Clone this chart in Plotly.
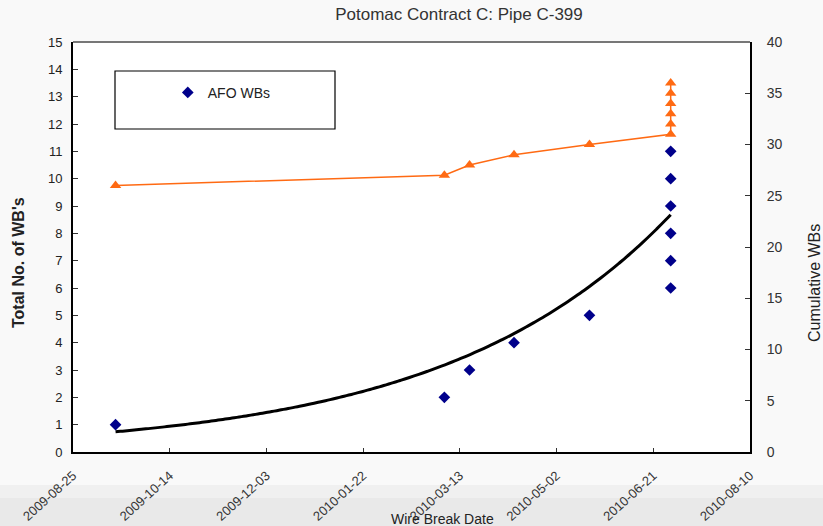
import numpy as np
import pandas as pd
import plotly.graph_objects as go

# ---- data ----
break_dates = ["2009-09-16", "2010-03-05", "2010-03-18", "2010-04-10", "2010-05-19",
               "2010-06-30", "2010-06-30", "2010-06-30", "2010-06-30", "2010-06-30", "2010-06-30"]
total_wbs = [1, 2, 3, 4, 5, 6, 7, 8, 9, 10, 11]
cumulative_wbs = [26, 27, 28, 29, 30, 31, 32, 33, 34, 35, 36]

# exponential trend line (as drawn in the reference): value at first date, growth per day
trend_start_value = 0.74
trend_growth_per_day = 0.00858

x_tick_labels = ["2009-08-25", "2009-10-14", "2009-12-03", "2010-01-22", "2010-03-13",
                 "2010-05-02", "2010-06-21", "2010-08-10"]

dates = pd.to_datetime(break_dates)
t_days = np.linspace(0, (dates[-1] - dates[0]).days, 120)
trend_x = dates[0] + pd.to_timedelta(t_days, unit="D")
trend_y = trend_start_value * np.exp(trend_growth_per_day * t_days)

fig = go.Figure()

fig.add_trace(go.Scatter(x=trend_x, y=trend_y, mode="lines",
                         line=dict(color="black", width=3, shape="spline"),
                         showlegend=False, hoverinfo="skip"))
fig.add_trace(go.Scatter(x=dates, y=total_wbs, mode="markers", name="AFO WBs",
                         marker=dict(symbol="diamond", size=9, color="#00008B")))
fig.add_trace(go.Scatter(x=dates, y=cumulative_wbs, mode="lines+markers", yaxis="y2",
                         line=dict(color="#FF6A13", width=1.5),
                         marker=dict(symbol="triangle-up", size=10, color="#FF6A13"),
                         showlegend=False))

tick_vals = pd.to_datetime(x_tick_labels)

L, R, T, B = 73, 73, 42, 74
W, H = 823, 526
pw, ph = W - L - R, H - T - B


def px(x):
    return (x - L) / pw


def py(y):
    return (H - B - y) / ph


fig.update_layout(
    width=W, height=H,
    margin=dict(l=L, r=R, t=T, b=B),
    paper_bgcolor="#f9f9f9",
    plot_bgcolor="white",
    font=dict(family="Arial, Liberation Sans, sans-serif", color="#222"),
    title=dict(text="Potomac Contract C: Pipe C-399", x=459 / W, xanchor="center",
               y=1 - 14 / H, yanchor="middle", font=dict(size=17, color="#333")),
    xaxis=dict(range=[tick_vals[0], tick_vals[-1]], tickvals=tick_vals, ticktext=x_tick_labels,
               tickangle=-42, tickfont=dict(size=13, color="#333"), ticks="inside", ticklen=4,
               tickcolor="#333", showline=True, linecolor="black", linewidth=2,
               ticklabelstandoff=9,
               showgrid=False, zeroline=False, automargin=False),
    yaxis=dict(range=[0, 15], dtick=1, ticks="inside", ticklen=5, tickcolor="#333",
               tickfont=dict(size=13, color="#222"), showline=True, linecolor="black",
               ticklabelstandoff=6,
               linewidth=2, showgrid=False, zeroline=False, automargin=False),
    yaxis2=dict(range=[0, 40], dtick=5, overlaying="y", side="right", ticks="inside",
                ticklen=5, tickcolor="#333", tickfont=dict(size=14, color="#333"),
                ticklabelstandoff=12,
                showline=True, linecolor="black", linewidth=2, showgrid=False,
                zeroline=False, automargin=False),
    showlegend=True,
    legend=dict(x=0.14, y=0.915, xanchor="left", yanchor="top", bgcolor="rgba(0,0,0,0)",
                font=dict(size=14, color="#222")),
    shapes=[
        dict(type="rect", xref="paper", yref="paper", x0=px(0), x1=px(W), y0=py(H), y1=py(498),
             line=dict(width=0), fillcolor="#e9e9e9", layer="below"),
        dict(type="rect", xref="paper", yref="paper", x0=px(0), x1=px(W), y0=py(498), y1=py(485),
             line=dict(width=0), fillcolor="#f0f0f0", layer="below"),
        dict(type="line", xref="paper", yref="paper", x0=0, x1=1, y0=1, y1=1,
             line=dict(color="#777", width=2)),
        dict(type="rect", xref="paper", yref="paper", x0=px(115), x1=px(335), y0=py(129),
             y1=py(71), line=dict(color="black", width=1.2), fillcolor="rgba(0,0,0,0)"),
    ],
    annotations=[
        dict(text="<b>Total No. of WB's</b>", x=px(18), y=py(262), xref="paper", yref="paper",
             xanchor="center", yanchor="middle",
             showarrow=False, textangle=-90, font=dict(size=16, color="#222")),
        dict(text="Cumulative WBs", x=px(814), y=py(283), xref="paper", yref="paper",
             xanchor="center", yanchor="middle",
             showarrow=False, textangle=-90, font=dict(size=16, color="#222")),
        dict(text="Wire Break Date", x=px(442), y=py(519), xref="paper", yref="paper",
             xanchor="center", yanchor="middle",
             showarrow=False, font=dict(size=14, color="#222")),
    ],
)

fig.write_html("out.html", config={"displayModeBar": False},
               post_script="document.body.style.margin='0';document.body.style.overflow='hidden';")
